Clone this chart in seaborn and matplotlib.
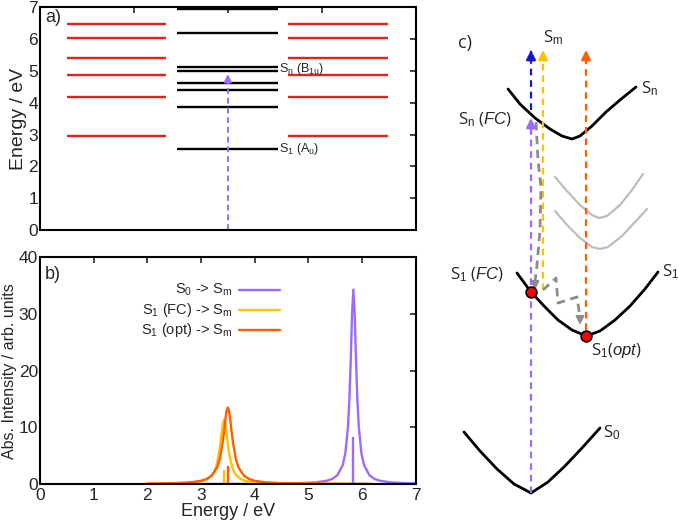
import matplotlib
matplotlib.use('Agg')
import matplotlib.pyplot as plt
import seaborn as sns

# ---- panel a: state energies (eV)
side_levels = [2.94, 4.19, 4.88, 5.42, 6.05, 6.47]          # red, left and right columns
mid_levels = [2.55, 3.86, 4.40, 4.62, 5.00, 5.12, 6.19, 6.95]  # black, middle column
excitation_top = 4.9
level_labels = ['S$_{\\mathrm{1}}$ (A$_{\\mathrm{u}}$)', 'S$_{\\mathrm{n}}$ (B$_{\\mathrm{1u}}$)']
level_label_y = [2.55, 5.06]

# ---- panel b: spectra (energy eV, intensity)
s0_x = [3.0, 3.84, 4.34, 4.84, 5.14, 5.34, 5.44, 5.54, 5.64, 5.69, 5.74, 5.765, 5.79, 5.815,
        5.84, 5.865, 5.89, 5.915, 5.94, 5.99, 6.04, 6.14, 6.24, 6.34, 6.54, 6.84, 7.0]
s0_y = [0.02, 0.04, 0.06, 0.15, 0.29, 0.57, 0.88, 1.54, 3.3, 5.4, 10.2, 14.7, 21.5, 29.9,
        34.3, 29.9, 21.5, 14.7, 10.2, 5.4, 3.3, 1.54, 0.88, 0.57, 0.29, 0.15, 0.11]
fc_x = [2.0, 2.43, 2.73, 2.93, 3.03, 3.13, 3.23, 3.28, 3.33, 3.355, 3.38, 3.405, 3.43,
        3.455, 3.48, 3.505, 3.53, 3.58, 3.63, 3.73, 3.83, 3.93, 4.13, 4.43, 5.0, 6.2]
fc_y = [0.05, 0.09, 0.19, 0.36, 0.55, 0.94, 1.9, 3.0, 5.1, 6.7, 8.7, 10.6, 11.4,
        10.6, 8.7, 6.7, 5.1, 3.0, 1.9, 0.94, 0.55, 0.36, 0.19, 0.09, 0.04, 0.01]
opt_x = [2.0, 2.5, 2.8, 3.0, 3.1, 3.2, 3.3, 3.35, 3.4, 3.425, 3.45, 3.475, 3.5, 3.525,
         3.55, 3.575, 3.6, 3.65, 3.7, 3.8, 3.9, 4.0, 4.2, 4.5, 5.0, 6.2]
opt_y = [0.07, 0.15, 0.30, 0.57, 0.87, 1.47, 2.9, 4.4, 7.1, 8.9, 11.0, 12.8, 13.5, 12.8,
         11.0, 8.9, 7.1, 4.4, 2.9, 1.47, 0.87, 0.57, 0.30, 0.15, 0.07, 0.02]
stick_x = [5.84, 3.43, 3.505]
stick_y = [8.3, 2.5, 3.1]
series_names = ['S$_{\\mathrm{0}}$ -> S$_{\\mathrm{m}}$',
                'S$_{\\mathrm{1}}$ (FC) -> S$_{\\mathrm{m}}$',
                'S$_{\\mathrm{1}}$ (opt) -> S$_{\\mathrm{m}}$']

# ---- panel c: schematic potential curves (figure pixel coords)
sn_x = [508, 520, 535, 550, 562, 572, 580, 592, 606, 620, 636]
sn_y = [89, 104, 118, 129, 136, 139, 136, 126, 112, 100, 87]
s1_x = [517, 531, 545, 558, 572, 586, 600, 615, 630, 645, 658]
s1_y = [273, 292, 307, 320, 330, 336, 331, 320, 306, 289, 272]
s0c_x = [464, 480, 497, 514, 531, 548, 565, 582, 600]
s0c_y = [432, 451, 469, 484, 493, 482, 466, 448, 428]
g1_x = [555, 567, 580, 592, 599, 607, 620, 632, 643]
g1_y = [177, 191, 205, 215, 218, 216, 205, 190, 174]
g2_x = [555, 567, 580, 592, 600, 608, 622, 635, 647]
g2_y = [211, 225, 238, 247, 249, 247, 236, 222, 209]
relax1_x = [536, 538, 541, 540, 537, 535]
relax1_y = [122, 160, 187, 230, 265, 290]
relax2_x = [543, 556, 558, 577, 580]
relax2_y = [290, 278, 303, 297, 325]
dots_x = [531, 586]
dots_y = [292, 336]

purple = '#9b6cfa'
yellow = '#ffc200'
orange = '#ff5e00'
red = '#e8201c'

sns.set_style('white')
plt.rcParams['font.family'] = ['Liberation Sans', 'DejaVu Sans']
plt.rcParams['mathtext.fontset'] = 'custom'
plt.rcParams['mathtext.rm'] = 'Liberation Sans'
plt.rcParams['mathtext.it'] = 'Liberation Sans:italic'


def dashed_arrow(ax, x, y0, y1, color, lw=1.5, head=12, dash=(3, 2)):
    sign = 1 if y1 > y0 else -1
    span = abs(y1 - y0)
    ax.plot([x, x], [y0, y1 - sign * span * 0.03], color=color, lw=lw,
            dashes=dash, solid_capstyle='butt')
    ax.annotate('', xy=(x, y1), xytext=(x, y1 - sign * span * 0.04),
                arrowprops=dict(arrowstyle='-|>', color=color, lw=lw,
                                mutation_scale=head, shrinkA=0, shrinkB=0))


fig = plt.figure(figsize=(6.78, 5.25), dpi=100)

# ---------------- panel a
ax_a = fig.add_axes([0.059, 0.562, 0.554, 0.424])
ax_a.hlines(side_levels, 0.29, 1.34, color=red, lw=1.7)
ax_a.hlines(side_levels, 2.64, 3.71, color=red, lw=1.7)
ax_a.hlines(mid_levels, 1.46, 2.53, color='black', lw=1.7)
dashed_arrow(ax_a, 2.0, 0, excitation_top, purple, lw=1.4, head=11)
for lab, ly in zip(level_labels, level_label_y):
    ax_a.text(2.55, ly, lab, fontsize=9, va='center', ha='left')
ax_a.text(0.06, 6.55, 'a)', fontsize=13)
ax_a.set_xlim(0, 4)
ax_a.set_ylim(0, 7)
ax_a.set_xticks([1, 2, 3])
ax_a.set_xticklabels([])
ax_a.set_yticks(range(8))
ax_a.set_ylabel('Energy / eV', fontsize=14, labelpad=1)

# ---------------- panel b
ax_b = fig.add_axes([0.059, 0.078, 0.554, 0.432])
sns.lineplot(x=s0_x, y=s0_y, ax=ax_b, color=purple, lw=1.7)
sns.lineplot(x=fc_x, y=fc_y, ax=ax_b, color=yellow, lw=1.7)
sns.lineplot(x=opt_x, y=opt_y, ax=ax_b, color=orange, lw=1.7)
ax_b.vlines(stick_x, 0, stick_y, colors=[purple, yellow, orange], lw=1.7)
ax_b.set_xlim(0, 7)
ax_b.set_ylim(0, 40)
ax_b.set_xticks(range(8))
ax_b.set_yticks([0, 10, 20, 30, 40])
ax_b.set_xlabel('Energy / eV', fontsize=13, labelpad=0)
ax_b.set_ylabel('Abs. Intensity / arb. units', fontsize=11.5, labelpad=1)
ax_b.text(0.013, 0.905, 'b)', fontsize=13, transform=ax_b.transAxes)
for i, (name, col) in enumerate(zip(series_names, [purple, yellow, orange])):
    yy = 0.855 - i * 0.088
    ax_b.text(0.513, yy, name, fontsize=10.5, ha='right', va='center',
              transform=ax_b.transAxes)
    ax_b.plot([0.529, 0.638], [yy, yy], color=col, lw=1.7, transform=ax_b.transAxes)

for ax in (ax_a, ax_b):
    ax.tick_params(direction='in', top=True, right=True, length=4, width=1.2,
                   labelsize=12.5)
    ax.tick_params(axis='y', pad=1.5)
    ax.tick_params(axis='x', pad=3)
    for s in ax.spines.values():
        s.set_linewidth(1.5)
        s.set_color('black')

# ---------------- panel c
ax_c = fig.add_axes([0.63, 0, 0.37, 1])
ax_c.set_xlim(0.63 * 678, 678)
ax_c.set_ylim(525, 0)
ax_c.axis('off')
ax_c.plot(g1_x, g1_y, color='#bdbdbd', lw=1.6)
ax_c.plot(g2_x, g2_y, color='#bdbdbd', lw=1.6)
ax_c.plot(sn_x, sn_y, color='black', lw=2)
ax_c.plot(s1_x, s1_y, color='black', lw=2)
ax_c.plot(s0c_x, s0c_y, color='black', lw=2)
dashed_arrow(ax_c, 531, 493, 118, purple, lw=1.6, head=14, dash=(3, 2.2))
dashed_arrow(ax_c, 531, 110, 50, '#1414d2', lw=1.6, head=14, dash=(3, 2.2))
dashed_arrow(ax_c, 543, 290, 50, yellow, lw=1.6, head=14, dash=(3, 2.2))
dashed_arrow(ax_c, 586, 330, 50, orange, lw=1.6, head=14, dash=(3, 2.2))
for rx, ry in ((relax1_x, relax1_y), (relax2_x, relax2_y)):
    ax_c.plot(rx[:-1] + [rx[-1]], ry[:-1] + [ry[-1] - 8], color='#8c8c8c', lw=2,
              dashes=(3, 2))
    ax_c.annotate('', xy=(rx[-1], ry[-1]), xytext=(rx[-1], ry[-1] - 9),
                  arrowprops=dict(arrowstyle='-|>', color='#8c8c8c', lw=1.5,
                                  mutation_scale=12, shrinkA=0, shrinkB=0))
ax_c.scatter(dots_x, dots_y, s=60, color='red', edgecolor='black', lw=1.2, zorder=5)

cfont = ['Open Sans', 'DejaVu Sans']
ax_c.text(458, 43, 'c)', fontsize=13, family=cfont, va='center')
ax_c.text(553, 38, 'S$_{\\mathrm{m}}$', fontsize=12, family=cfont, ha='center', va='center')
ax_c.text(641, 89, 'S$_{\\mathrm{n}}$', fontsize=12, family=cfont, va='center')
ax_c.text(458, 120, 'S$_{\\mathrm{n}}$ ($\\it{FC}$)', fontsize=12, family=cfont, va='center')
ax_c.text(450, 275, 'S$_{\\mathrm{1}}$ ($\\it{FC}$)', fontsize=12, family=cfont, va='center')
ax_c.text(662, 272, 'S$_{\\mathrm{1}}$', fontsize=12, family=cfont, va='center')
ax_c.text(591, 350, 'S$_{\\mathrm{1}}$($\\it{opt}$)', fontsize=12, family=cfont, va='center')
ax_c.text(603, 433, 'S$_{\\mathrm{0}}$', fontsize=12, family=cfont, va='center')

fig.savefig('out.png', dpi=100)
